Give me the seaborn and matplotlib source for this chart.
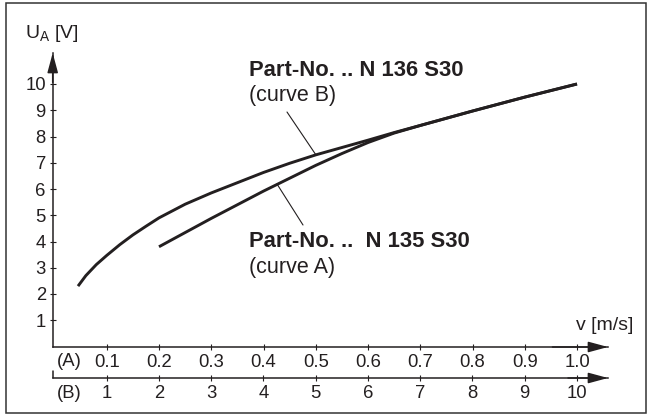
import matplotlib
matplotlib.use('Agg')
import matplotlib.pyplot as plt
import seaborn as sns
import pandas as pd
from matplotlib.patches import Rectangle
from matplotlib.lines import Line2D

# ---------------- data ----------------
# curve A : Part-No. .. N 135 S30, speed on scale (A) [m/s]
speed_a = [0.20, 0.30, 0.40, 0.50, 0.55, 0.60, 0.65, 0.70, 0.80, 0.90, 1.00]
volt_a = [3.8, 4.88, 5.92, 6.9, 7.35, 7.77, 8.13, 8.42, 8.97, 9.5, 10.0]
# curve B : Part-No. .. N 136 S30, speed on scale (B) [m/s]
speed_b = [0.45, 0.6, 0.8, 1.0, 1.25, 1.5, 1.75, 2.0, 2.5, 3.0, 3.5, 4.0, 4.5,
           5.0, 5.5, 6.0, 6.5, 7.0, 8.0, 9.0, 10.0]
volt_b = [2.3, 2.7, 3.12, 3.47, 3.88, 4.25, 4.58, 4.9, 5.42, 5.85, 6.24, 6.63, 6.98,
          7.3, 7.58, 7.86, 8.15, 8.42, 8.97, 9.5, 10.0]

ticks_a = [0.1, 0.2, 0.3, 0.4, 0.5, 0.6, 0.7, 0.8, 0.9, 1.0]
ticklabels_a = ['0.1', '0.2', '0.3', '0.4', '0.5', '0.6', '0.7', '0.8', '0.9', '1.0']
ticks_b = [1, 2, 3, 4, 5, 6, 7, 8, 9, 10]
ticklabels_b = ['1', '2', '3', '4', '5', '6', '7', '8', '9', '10']
ticks_y = [1, 2, 3, 4, 5, 6, 7, 8, 9, 10]

label_b = 'Part-No. .. N 136 S30'
label_a = 'Part-No. ..  N 135 S30'

# ---------------- style ----------------
sns.set_theme(style='white')
plt.rcParams['font.family'] = ['Liberation Sans', 'DejaVu Sans']
plt.rcParams['mathtext.fontset'] = 'custom'
plt.rcParams['mathtext.rm'] = 'Liberation Sans'
INK = '#231f20'

W, H, DPI = 648, 416, 100
fig = plt.figure(figsize=(W / DPI, H / DPI), dpi=DPI)
fig.patch.set_facecolor('white')

# pixel geometry
x_left, x_right = 52.7, 608.0      # axes extent
y_top, y_bot = 53.0, 347.0         # axes extent (from top)
x0_px, x_unit = 54.5, 52.25        # B-scale 0 position and px per unit
y0_px, y_unit = 346.5, 26.25

ax = fig.add_axes([x_left / W, 1 - y_bot / H, (x_right - x_left) / W, (y_bot - y_top) / H])
ax.set_facecolor('none')
xb_lo = (x_left - x0_px) / x_unit
xb_hi = (x_right - x0_px) / x_unit
ax.set_xlim(xb_lo / 10, xb_hi / 10)
ax.set_ylim((y0_px - y_bot) / y_unit, (y0_px - y_top) / y_unit)

axb = ax.twiny()
axb.set_xlim(xb_lo, xb_hi)
axb.set_facecolor('none')

# curves
df_a = pd.DataFrame({'v': speed_a, 'U': volt_a})
df_b = pd.DataFrame({'v': speed_b, 'U': volt_b})
sns.lineplot(data=df_a, x='v', y='U', ax=ax, color=INK, lw=2.1, sort=True,
             solid_joinstyle='round', solid_capstyle='butt')
sns.lineplot(data=df_b, x='v', y='U', ax=axb, color=INK, lw=2.1, sort=True,
             solid_joinstyle='round', solid_capstyle='butt')
for a in (ax, axb):
    a.set_xlabel('')
    a.set_ylabel('')

# spines
for s in ['top', 'right']:
    ax.spines[s].set_visible(False)
for s in ['top', 'right', 'left']:
    axb.spines[s].set_visible(False)
for s in ['left', 'bottom']:
    ax.spines[s].set_color(INK)
    ax.spines[s].set_linewidth(1.1)
axb.spines['bottom'].set_visible(True)
axb.spines['bottom'].set_color(INK)
axb.spines['bottom'].set_linewidth(1.1)
axb.spines['bottom'].set_position(('outward', 31 * 72 / DPI))
axb.xaxis.set_ticks_position('bottom')
axb.xaxis.set_label_position('bottom')

FS = 13.3
ax.set_xticks(ticks_a)
ax.set_xticklabels(ticklabels_a)
ax.set_yticks(ticks_y)
ax.set_yticklabels([str(t) for t in ticks_y])
axb.set_xticks(ticks_b)
axb.set_xticklabels(ticklabels_b)
ax.tick_params(axis='x', direction='inout', length=5, width=0.8, color=INK,
               labelsize=FS, labelcolor=INK, pad=2.3, bottom=True)
ax.tick_params(axis='y', direction='inout', length=5, width=0.8, color=INK,
               labelsize=FS, labelcolor=INK, pad=2.5, left=True)
axb.tick_params(axis='x', direction='inout', length=5, width=0.8, color=INK,
                labelsize=FS, labelcolor=INK, pad=2.3, bottom=True, top=False)
axb.tick_params(axis='y', left=False, right=False, labelleft=False, labelright=False)
ax.grid(False)
axb.grid(False)

# arrow heads
ap = dict(arrowstyle='-|>,head_length=1.0,head_width=0.27', color=INK, lw=1.1,
          shrinkA=0, shrinkB=0)
ax.annotate('', xy=(1, 0), xytext=(0.9, 0), xycoords='axes fraction', arrowprops=ap)
ax.annotate('', xy=(0, 1), xytext=(0, 0.9), xycoords='axes fraction', arrowprops=ap)
ax.annotate('', xy=(x_right, H - 378), xytext=(x_right - 40, H - 378),
            xycoords='figure pixels', arrowprops=ap)
fig.add_artist(Line2D([x_left / W, x_left / W], [1 - 378 / H, 1 - 371 / H],
                      transform=fig.transFigure, color=INK, lw=1.1))

# axis labels
def ftext(x, y, s, **kw):
    kw.setdefault('va', 'center')
    kw.setdefault('ha', 'left')
    kw.setdefault('color', INK)
    fig.text(x / W, 1 - y / H, s, **kw)

ftext(25, 34, r'U$_{\mathregular{A}}$ [V]', fontsize=14)
ftext(633, 326, 'v [m/s]', fontsize=14, ha='right')
ftext(57, 361, '(A)', fontsize=FS)
ftext(57, 394, '(B)', fontsize=FS)

# annotations
ftext(249, 70, label_b, fontsize=15.8, fontweight='bold')
ftext(249, 96, '(curve B)', fontsize=15.5)
ftext(249, 241, label_a, fontsize=15.8, fontweight='bold')
ftext(249, 267, '(curve A)', fontsize=15.5)

lp = dict(arrowstyle='-', color=INK, lw=0.8, shrinkA=0, shrinkB=0)
ax.annotate('', xy=(316, H - 155), xytext=(287, H - 112), xycoords='figure pixels', arrowprops=lp)
ax.annotate('', xy=(277, H - 184), xytext=(303, H - 225), xycoords='figure pixels', arrowprops=lp)

# frame
fig.add_artist(Rectangle((6 / W, 1 - 413 / H), (646 - 6) / W, (413 - 3) / H,
                         transform=fig.transFigure, fill=False, ec='#333333', lw=1.1))

fig.savefig('out.png', dpi=DPI, facecolor='white')
